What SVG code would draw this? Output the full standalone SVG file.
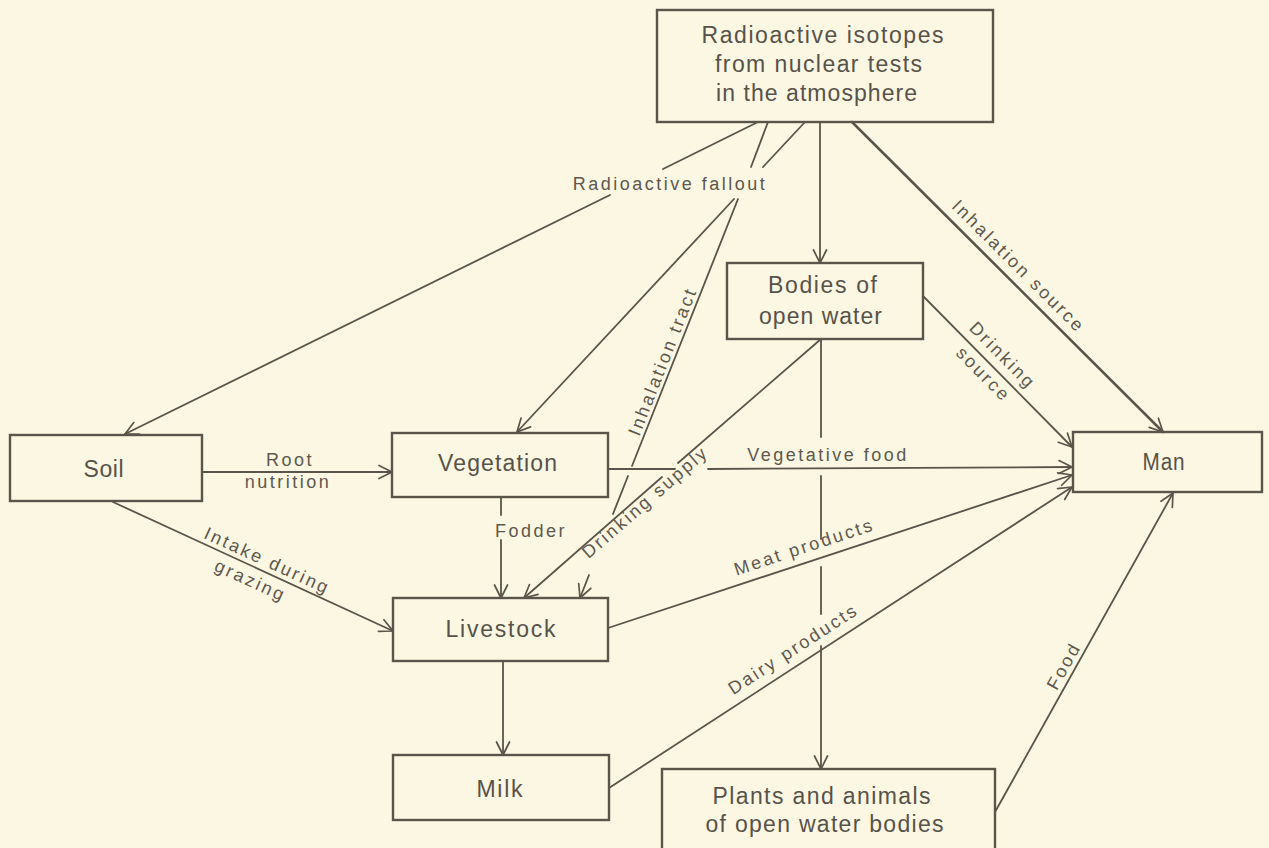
<svg xmlns="http://www.w3.org/2000/svg" width="1269" height="848" viewBox="0 0 1269 848">
<style>
  .box{fill:none;stroke:#5a544a;stroke-width:2.4}
  .ln{fill:none;stroke:#5a544a;stroke-width:1.8;stroke-linecap:round}
  .thick{stroke-width:2.6}
  .nt{font-family:"Liberation Sans",Arial,sans-serif;font-size:23px;fill:#57524a;text-anchor:middle;letter-spacing:1px}
  .lb{font-family:"Liberation Sans",Arial,sans-serif;font-size:18px;fill:#5e584f;text-anchor:middle;letter-spacing:2.5px}
</style>
<defs>
  <marker id="ah" viewBox="-15 -9 18 18" refX="0" refY="0" markerWidth="18" markerHeight="18" markerUnits="userSpaceOnUse" orient="auto">
    <path d="M-13,-6.5 L0,0 L-13,6.5" fill="none" stroke="#5a544a" stroke-width="1.7" stroke-linecap="round" stroke-linejoin="round"/>
  </marker>
</defs>
<rect x="0" y="0" width="1269" height="848" fill="#fcf7e2"/>

<g id="connectors">
  <!-- Atmosphere -> Soil (radioactive fallout) -->
  <path class="ln" d="M758,122 L663,169"/>
  <path class="ln" d="M610,195 L125,434" marker-end="url(#ah)"/>
  <!-- Atmosphere -> Livestock (inhalation tract) -->
  <path class="ln" d="M768,122 L751,167"/>
  <path class="ln" d="M738,199 L632,466"/>
  <path class="ln" d="M628,476 L613,514"/>
  <path class="ln" d="M589,575 L580,598" marker-end="url(#ah)"/>
  <!-- Atmosphere -> Vegetation -->
  <path class="ln" d="M805,122 L763,167"/>
  <path class="ln" d="M734,199 L517,432" marker-end="url(#ah)"/>
  <!-- Atmosphere -> Bodies of open water -->
  <path class="ln" d="M820,122 L820,263" marker-end="url(#ah)"/>
  <!-- Atmosphere -> Man (inhalation source) -->
  <path class="ln thick" d="M852,122 L1163,432" marker-end="url(#ah)"/>
  <!-- Soil -> Vegetation -->
  <path class="ln" d="M202,472 L392,472" marker-end="url(#ah)"/>
  <!-- Soil -> Livestock -->
  <path class="ln" d="M113,502 L393,631" marker-end="url(#ah)"/>
  <!-- Vegetation -> Livestock (fodder) -->
  <path class="ln" d="M501,497 L501,515"/>
  <path class="ln" d="M501,540 L501,598" marker-end="url(#ah)"/>
  <!-- Vegetation -> Man (vegetative food) -->
  <path class="ln" d="M608,469 L675,469"/>
  <path class="ln" d="M708,469 L1072,467" marker-end="url(#ah)"/>
  <!-- Bodies -> Livestock (drinking supply) -->
  <path class="ln" d="M821,339 L678,463"/>
  <path class="ln" d="M662,477 L524,598" marker-end="url(#ah)"/>
  <!-- Bodies -> Man (drinking source) -->
  <path class="ln" d="M923,296 L1072,447" marker-end="url(#ah)"/>
  <!-- Bodies -> Plants and animals -->
  <path class="ln" d="M821,339 L821,437"/>
  <path class="ln" d="M821,476 L821,539"/>
  <path class="ln" d="M821,567 L821,614"/>
  <path class="ln" d="M821,646 L821,769" marker-end="url(#ah)"/>
  <!-- Livestock -> Milk -->
  <path class="ln" d="M503,661 L503,755" marker-end="url(#ah)"/>
  <!-- Livestock -> Man (meat products) -->
  <path class="ln" d="M608,628 L1072,475" marker-end="url(#ah)"/>
  <!-- Milk -> Man (dairy products) -->
  <path class="ln" d="M609,788 L1072,487" marker-end="url(#ah)"/>
  <!-- Plants and animals -> Man (food) -->
  <path class="ln" d="M995,812 L1173,493" marker-end="url(#ah)"/>
</g>

<g id="edge-labels">
  <text class="lb" x="670" y="190">Radioactive fallout</text>
  <text class="lb" x="290" y="466">Root</text>
  <text class="lb" x="288" y="488">nutrition</text>
  <text class="lb" x="828" y="461">Vegetative food</text>
  <text class="lb" x="495" y="537" style="text-anchor:start">Fodder</text>
  <text class="lb" transform="translate(640,496) rotate(-41)" x="0" y="14">Drinking supply</text>
  <text class="lb" transform="translate(672,365) rotate(-68.45)" x="0" y="-4">Inhalation tract</text>
  <text class="lb" transform="translate(1008,277) rotate(44.9)" x="0" y="-9">Inhalation source</text>
  <g transform="translate(992,366) rotate(45.4)">
    <text class="lb" x="0" y="-9">Drinking</text>
    <text class="lb" x="0" y="18">source</text>
  </g>
  <text class="lb" transform="translate(809,561.7) rotate(-18.25)" x="0" y="-9.5">Meat products</text>
  <text class="lb" transform="translate(802,662.5) rotate(-33.03)" x="0" y="-10">Dairy products</text>
  <text class="lb" transform="translate(1073.5,671.3) rotate(-60.8)" x="0" y="-5">Food</text>
  <g transform="translate(260,569.5) rotate(24.6)">
    <text class="lb" x="3" y="-5">Intake during</text>
    <text class="lb" x="-4" y="20">grazing</text>
  </g>
</g>

<g id="node-atmosphere">
  <rect class="box" x="657" y="10" width="336" height="112"/>
  <text class="nt" x="823" y="43" textLength="243" lengthAdjust="spacing">Radioactive isotopes</text>
  <text class="nt" x="819" y="72" textLength="208" lengthAdjust="spacing">from nuclear tests</text>
  <text class="nt" x="817" y="101" textLength="202" lengthAdjust="spacing">in the atmosphere</text>
</g>
<g id="node-bodies">
  <rect class="box" x="727" y="263" width="196" height="76"/>
  <text class="nt" x="823" y="293" textLength="110" lengthAdjust="spacing">Bodies of</text>
  <text class="nt" x="821" y="324" textLength="124" lengthAdjust="spacing">open water</text>
</g>
<g id="node-soil">
  <rect class="box" x="10" y="435" width="192" height="66"/>
  <text class="nt" x="104" y="477" textLength="41" lengthAdjust="spacing">Soil</text>
</g>
<g id="node-vegetation">
  <rect class="box" x="392" y="433" width="216" height="64"/>
  <text class="nt" x="498" y="471" textLength="120" lengthAdjust="spacing">Vegetation</text>
</g>
<g id="node-livestock">
  <rect class="box" x="393" y="598" width="215" height="63"/>
  <text class="nt" x="501" y="637" textLength="111" lengthAdjust="spacing">Livestock</text>
</g>
<g id="node-milk">
  <rect class="box" x="393" y="755" width="216" height="65"/>
  <text class="nt" x="500" y="797" textLength="47" lengthAdjust="spacing">Milk</text>
</g>
<g id="node-man">
  <rect class="box" x="1073" y="432" width="189" height="60"/>
  <text class="nt" x="1164" y="470" textLength="43" lengthAdjust="spacingAndGlyphs">Man</text>
</g>
<g id="node-plants">
  <rect class="box" x="662" y="769" width="333" height="90"/>
  <text class="nt" x="822" y="804" textLength="219" lengthAdjust="spacing">Plants and animals</text>
  <text class="nt" x="825" y="832" textLength="239" lengthAdjust="spacing">of open water bodies</text>
</g>
</svg>
